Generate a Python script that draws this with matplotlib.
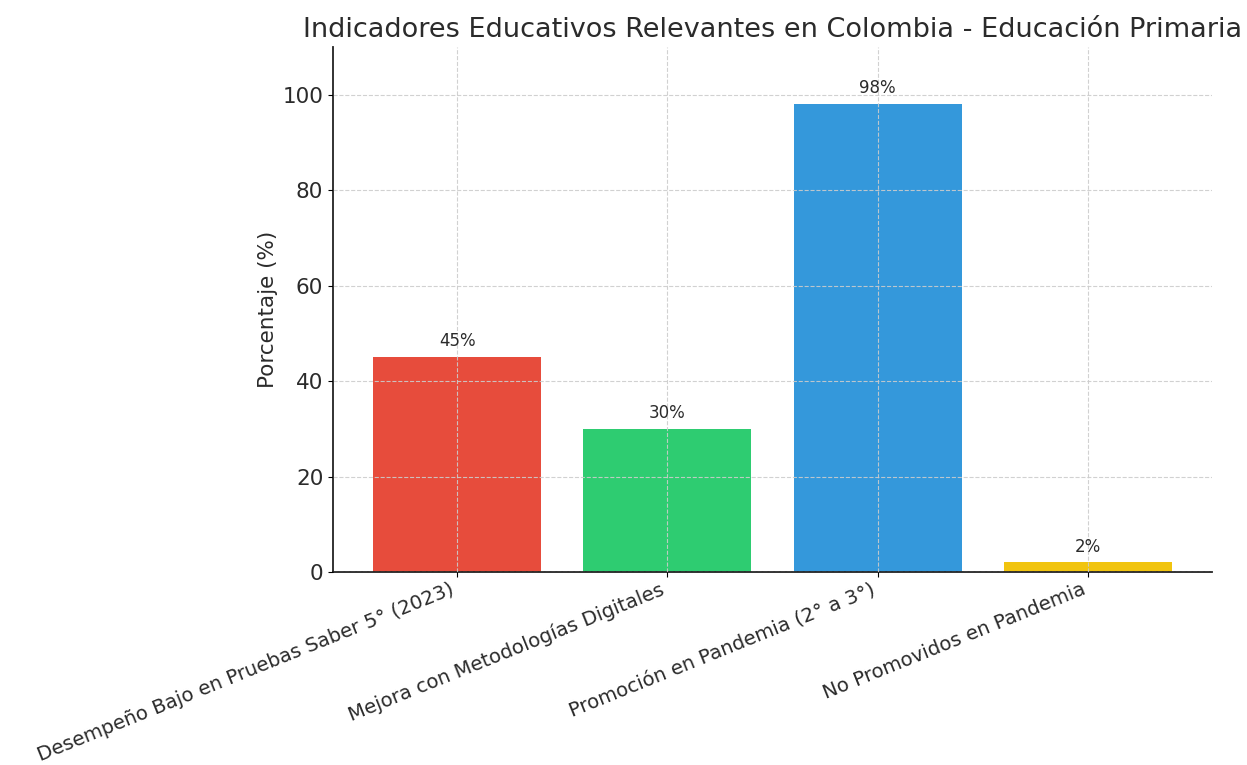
import matplotlib
matplotlib.use("Agg")
import matplotlib.pyplot as plt
import numpy as np

# Datos
categorias = [
    "Desempeño Bajo en Pruebas Saber 5° (2023)",
    "Mejora con Metodologías Digitales",
    "Promoción en Pandemia (2° a 3°)",
    "No Promovidos en Pandemia",
]
valores = [45, 30, 98, 2]
colores = ["#e74c3c", "#2ecc71", "#3498db", "#f1c40f"]

text_color = "#2b2b2b"

fig = plt.figure(figsize=(12.47, 7.65), dpi=100)
ax = fig.add_axes([333 / 1247, 1 - 572 / 765, (1212 - 333) / 1247, (572 - 47) / 765])

x = np.arange(len(categorias))
bars = ax.bar(x, valores, color=colores, width=0.8)

for b, v in zip(bars, valores):
    ax.annotate(f"{v}%", (b.get_x() + b.get_width() / 2, v),
                xytext=(0, 5), textcoords="offset points",
                ha="center", va="bottom", fontsize=12, color=text_color)

ax.set_ylim(0, 110)
ax.set_xticks(x)
ax.set_xticklabels(categorias, rotation=22, ha="right",
                   fontsize=14.2, color=text_color)
ax.tick_params(axis="x", pad=2)
ax.tick_params(axis="y", labelsize=15.5, labelcolor=text_color)
ax.set_ylabel("Porcentaje (%)", fontsize=15.5, color=text_color, labelpad=3)
ax.set_title("Indicadores Educativos Relevantes en Colombia - Educación Primaria",
             fontsize=19.5, color=text_color, pad=7)

ax.grid(True, linestyle="--", color="#cccccc", linewidth=0.8, alpha=0.9)
ax.set_axisbelow(False)
for s in ["top", "right"]:
    ax.spines[s].set_visible(False)
for s in ["left", "bottom"]:
    ax.spines[s].set_color("#222222")
    ax.spines[s].set_linewidth(1.3)

fig.savefig("out.png", dpi=100)
